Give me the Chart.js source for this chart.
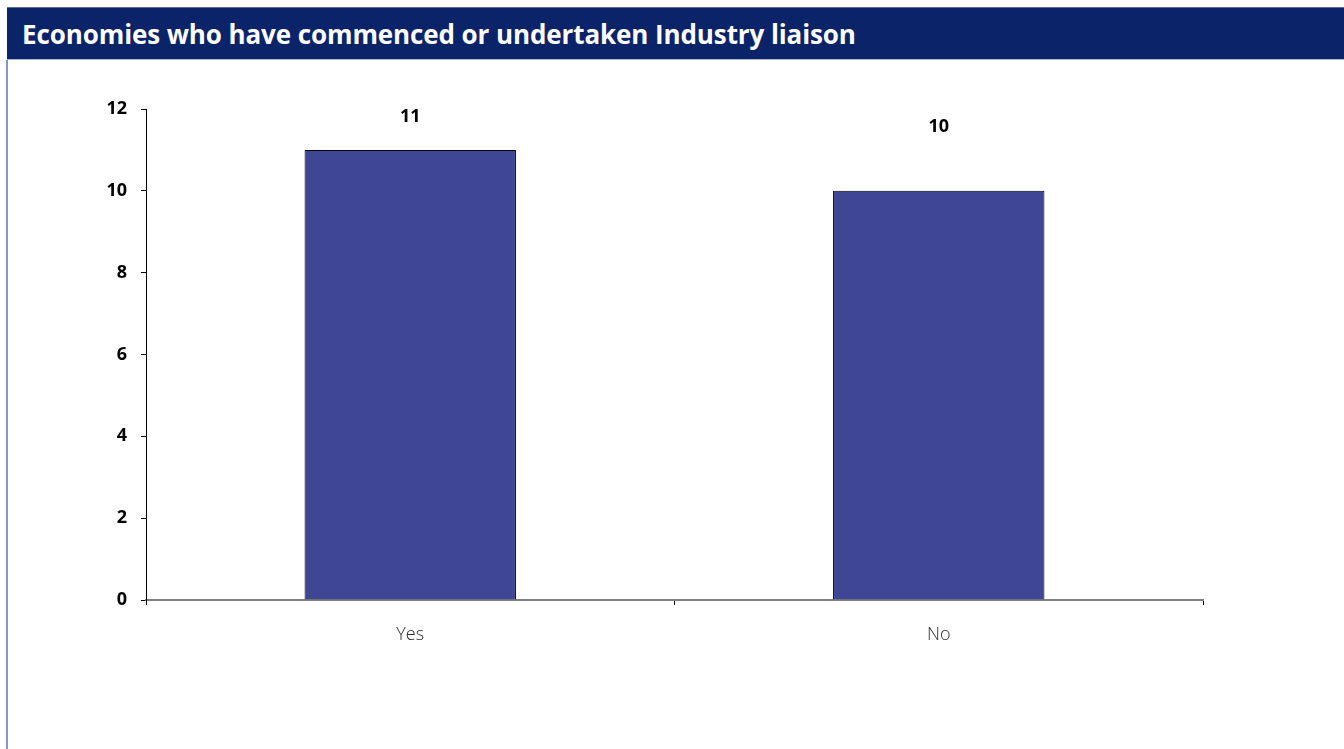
<!DOCTYPE html>
<html>
<head>
<meta charset="utf-8">
<script src="https://cdn.jsdelivr.net/npm/chart.js@4.4.1/dist/chart.umd.min.js"></script>
<style>
  html, body { margin: 0; padding: 0; background: #fff; }
  body { width: 1344px; height: 749px; position: relative; overflow: hidden; }
  #header {
    position: absolute; left: 7px; top: 7px; width: 1337px; height: 53px;
    background: #0b2369; border-top: 1px solid #5a6aa0; border-bottom: 1px solid #a8b2d8;
    box-sizing: border-box;
    color: #fff; font-family: "Open Sans", sans-serif; font-weight: 700; font-size: 26px;
    line-height: 52px; padding-left: 15px; letter-spacing: -0.1px;
  }
  #frame {
    position: absolute; left: 6px; top: 60px; width: 0; height: 689px;
    border-left: 2px solid #8a96c8;
  }
  #wrap { position: absolute; left: 9px; top: 61px; width: 1335px; height: 688px; }
</style>
</head>
<body>
<div id="header">Economies who have commenced or undertaken Industry liaison</div>
<div id="frame"></div>
<div id="wrap"><canvas id="myChart"></canvas></div>
<script>
'use strict';

const categories = ['Yes', 'No'];
const economyCounts = [11, 10];
const yTicks = [0, 2, 4, 6, 8, 10, 12];

// how far above each bar top its value label sits
const labelLift = [33, 64];

const valueLabels = {
  id: 'valueLabels',
  afterDatasetsDraw(chart) {
    const ctx = chart.ctx;
    const meta = chart.getDatasetMeta(0);
    ctx.save();
    ctx.font = 'bold 18px "Open Sans", sans-serif';
    ctx.fillStyle = '#000';
    ctx.textAlign = 'center';
    ctx.textBaseline = 'middle';
    meta.data.forEach(function (bar, i) {
      ctx.fillText(String(economyCounts[i]), bar.x, bar.y - labelLift[i]);
    });
    ctx.restore();
  }
};

const data = {
  labels: categories,
  datasets: [{
    data: economyCounts,
    backgroundColor: '#3f4795',
    borderColor: '#000',
    borderWidth: 1,
    barPercentage: 0.4,
    categoryPercentage: 1
  }]
};

const config = {
  type: 'bar',
  data: data,
  options: {
    responsive: false,
    animation: false,
    layout: { padding: { left: 0, top: 48, right: 141, bottom: 0 } },
    plugins: {
      legend: { display: false },
      tooltip: { enabled: false }
    },
    scales: {
      x: {
        grid: { drawOnChartArea: false, drawTicks: true, tickLength: 5, color: '#000', offset: true },
        border: { color: '#808080', width: 2 },
        ticks: {
          color: '#2a2a2a',
          padding: 19,
          font: { family: '"Open Sans", sans-serif', size: 18, weight: 300 }
        },
        afterFit(scale) { scale.height = 149; }
      },
      y: {
        min: 0,
        max: 12,
        afterBuildTicks(scale) { scale.ticks = yTicks.map(v => ({ value: v })); },
        grid: { drawOnChartArea: false, drawTicks: true, tickLength: 5, color: '#000' },
        border: { color: '#000', width: 1 },
        ticks: {
          color: '#000',
          padding: 14,
          font: { family: '"Open Sans", sans-serif', size: 18, weight: 'bold' }
        },
        afterFit(scale) { scale.width = 137; }
      }
    }
  },
  plugins: [valueLabels]
};

const canvas = document.getElementById('myChart');
canvas.width = 1335;
canvas.height = 688;
const myChart = new Chart(canvas, config);
</script>
</body>
</html>
